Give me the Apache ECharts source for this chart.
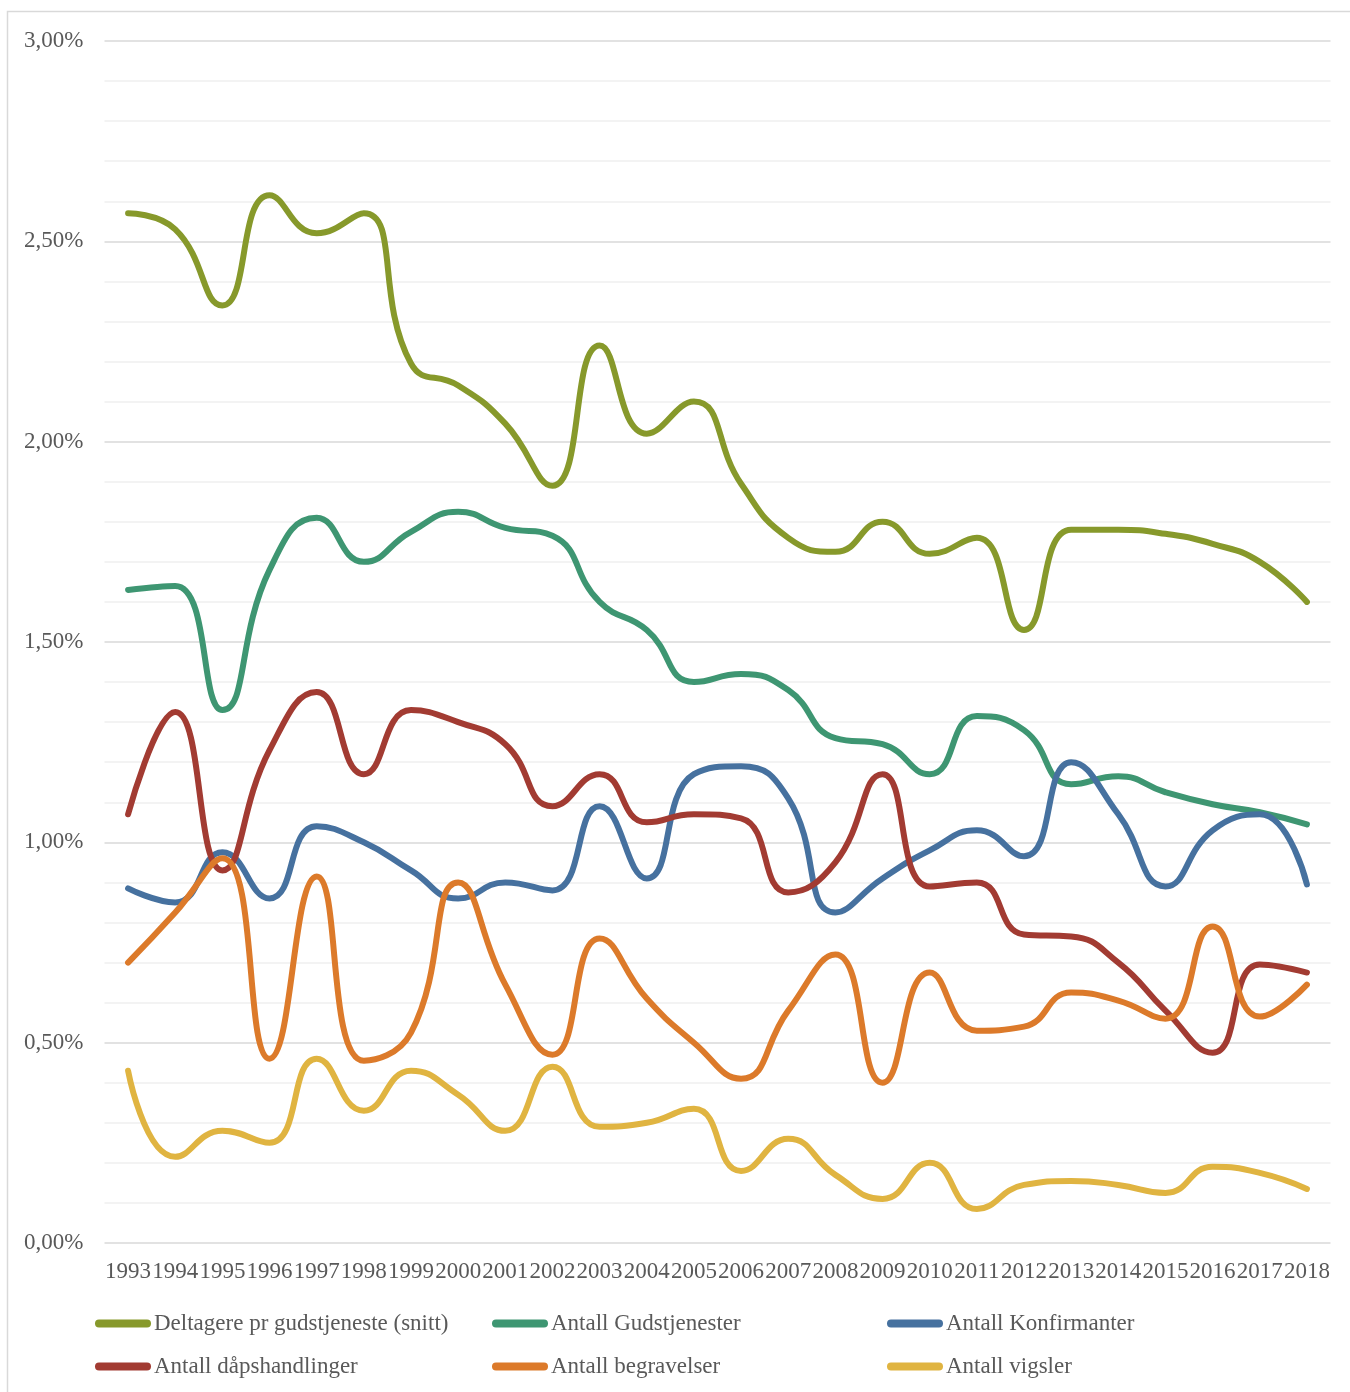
<!DOCTYPE html>
<html><head><meta charset="utf-8">
<script src="https://cdn.jsdelivr.net/npm/echarts@6/dist/echarts.min.js"></script>
<style>html,body{margin:0;padding:0;background:#fff}#c{width:1350px;height:1392px}</style>
</head><body><div id="c"></div>
<script>
const years = ['1993','1994','1995','1996','1997','1998','1999','2000','2001','2002','2003','2004','2005','2006','2007','2008','2009','2010','2011','2012','2013','2014','2015','2016','2017','2018'];
const deltagere = [2.57,2.53,2.34,2.615,2.52,2.57,2.195,2.14,2.045,1.89,2.24,2.02,2.10,1.895,1.76,1.725,1.80,1.72,1.76,1.53,1.78,1.78,1.77,1.745,1.70,1.60];
const gudstjenester = [1.63,1.64,1.33,1.68,1.81,1.70,1.775,1.825,1.785,1.765,1.60,1.53,1.40,1.42,1.38,1.26,1.245,1.17,1.315,1.28,1.145,1.165,1.125,1.095,1.075,1.045];
const konfirmanter = [0.885,0.85,0.975,0.86,1.04,1.00,0.93,0.86,0.90,0.88,1.09,0.91,1.17,1.19,1.11,0.825,0.91,0.98,1.03,0.965,1.20,1.07,0.89,1.03,1.07,0.895];
const daap = [1.07,1.325,0.93,1.23,1.375,1.17,1.33,1.30,1.245,1.09,1.17,1.05,1.07,1.06,0.875,0.95,1.17,0.89,0.90,0.77,0.765,0.70,0.58,0.475,0.695,0.675];
const begravelser = [0.70,0.825,0.96,0.46,0.915,0.455,0.525,0.90,0.645,0.47,0.76,0.61,0.50,0.41,0.58,0.72,0.40,0.675,0.53,0.54,0.625,0.605,0.56,0.79,0.565,0.645];
const vigsler = [0.43,0.215,0.28,0.25,0.46,0.33,0.43,0.37,0.28,0.44,0.29,0.30,0.335,0.18,0.26,0.17,0.11,0.20,0.085,0.145,0.155,0.145,0.125,0.19,0.175,0.135];
const names = ['Deltagere pr gudstjeneste (snitt)','Antall Gudstjenester','Antall Konfirmanter','Antall dåpshandlinger','Antall begravelser','Antall vigsler'];
const colors = ['#87992b','#3e9672','#46719f','#a23b32','#dc7a2a','#e0b441'];
const seriesData = [deltagere,gudstjenester,konfirmanter,daap,begravelser,vigsler];

const font = '"Liberation Serif", "DejaVu Serif", serif';
const legendPos = [[95,1312],[492,1312],[887,1312],[95,1355],[492,1355],[887,1355]];
const pill = 'path://M4,0 H52 A4,4 0 0 1 52,8 H4 A4,4 0 0 1 4,0 Z';

const chart = echarts.init(document.getElementById('c'));
chart.setOption({
  backgroundColor:'#fff',
  animation:false,
  color: colors,
  graphic:[{type:'rect',shape:{x:7.5,y:11.5,width:1400,height:1400},style:{fill:'none',stroke:'#d9d9d9',lineWidth:1.5},silent:true}],
  grid:{left:104.5,right:19.5,top:41,bottom:149},
  xAxis:{type:'category',data:years,boundaryGap:true,
    axisLine:{show:false},axisTick:{show:false},
    axisLabel:{interval:0,color:'#595959',fontFamily:font,fontSize:23,margin:17}},
  yAxis:{type:'value',min:0,max:3,interval:0.5,
    axisLine:{show:false},axisTick:{show:false},
    splitLine:{lineStyle:{color:'#d9d9d9',width:1.5}},
    minorTick:{show:false,splitNumber:5},
    minorSplitLine:{show:true,lineStyle:{color:'#f0f0f0',width:1.5}},
    axisLabel:{color:'#595959',fontFamily:font,fontSize:23,margin:21,
      formatter:v=>v.toFixed(2).replace('.',',')+'%'}},
  legend: names.map((n,i)=>({data:[n],left:legendPos[i][0],top:legendPos[i][1],
    icon:pill,itemWidth:56,itemHeight:8,itemGap:5,padding:0,
    textStyle:{color:'#595959',fontFamily:font,fontSize:23,padding:[0,0,0,-2]}})),
  series: names.map((n,i)=>({name:n,type:'line',data:seriesData[i],smooth:0.5,
    showSymbol:false,symbol:'none',
    lineStyle:{width:6,color:colors[i],cap:'round',join:'round'},
    itemStyle:{color:colors[i]}}))
});
</script></body></html>
